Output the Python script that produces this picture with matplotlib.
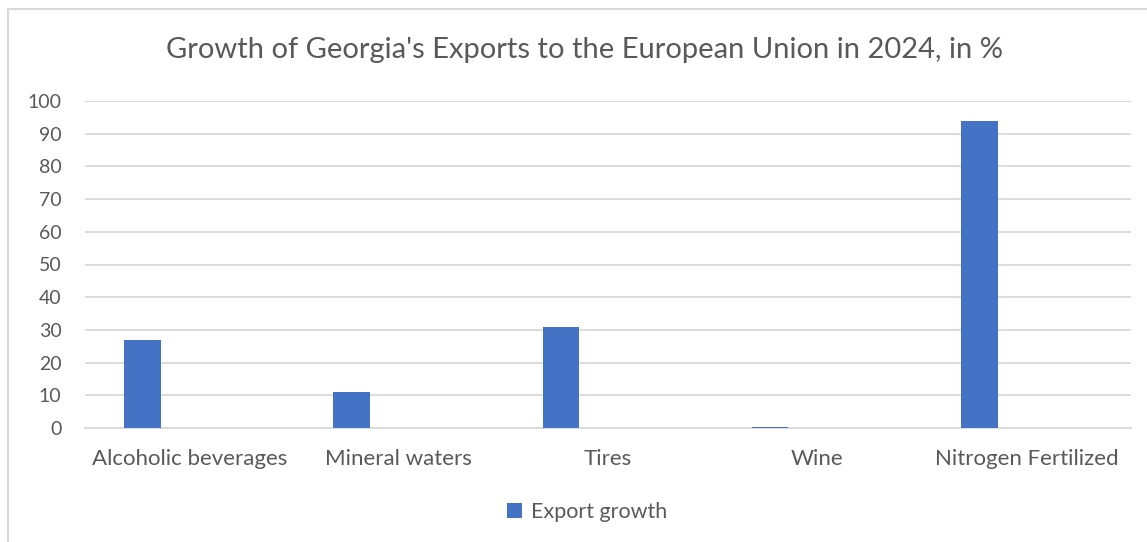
import matplotlib.pyplot as plt
from matplotlib.patches import Rectangle
import numpy as np

plt.rcParams['font.family'] = ['Lato', 'DejaVu Sans']

categories = ["Alcoholic beverages", "Mineral waters", "Tires", "Wine", "Nitrogen Fertilized"]
export_growth = [27, 11, 31, 0.3, 94]
series_name = "Export growth"
title = "Growth of Georgia's Exports to the European Union in 2024, in %"

W, H = 1147, 542
fig = plt.figure(figsize=(W / 100, H / 100), dpi=100)

# chart frame (cropped at right and bottom in the source)
fig.patches.append(Rectangle((8 / W, -0.1), 1.2, 1 - 9 / H + 0.1, transform=fig.transFigure,
                             fill=False, edgecolor="#d9d9d9", linewidth=1.5))
# cut-off caption letter above the frame
fig.text(47 / W, 1 + 10 / H, "g", fontsize=18, color="black", va="baseline", ha="left")

ax = fig.add_axes([85 / W, 1 - 428 / H, (1131 - 85) / W, (428 - 101) / H])

x = np.arange(len(categories))
bars = ax.bar(x - 0.225, export_growth, width=0.175, color="#4472c4", label=series_name, zorder=3)

ax.set_xlim(-0.5, len(categories) - 0.5)
ax.set_ylim(0, 100)
ax.set_yticks(np.arange(0, 101, 10))
ax.set_xticks(x)
ax.set_xticklabels(categories)
ax.grid(axis="y", color="#d9d9d9", linewidth=1.3, zorder=0)
for s in ["top", "right", "left"]:
    ax.spines[s].set_visible(False)
ax.spines["bottom"].set_color("#d9d9d9")
ax.spines["bottom"].set_linewidth(1.3)
ax.tick_params(axis="both", length=0, colors="#595959")
ax.tick_params(axis="x", pad=15, labelsize=16)
ax.tick_params(axis="y", pad=17, labelsize=14)

fig.text(584 / W, 1 - 50 / H, title, fontsize=21, color="#595959", ha="center", va="center")

fig.legend(handles=[bars], labels=[series_name], loc="center", bbox_to_anchor=(587 / W, 1 - 512 / H),
           frameon=False, fontsize=15.5, labelcolor="#595959", handlelength=0.7, handleheight=0.7,
           handletextpad=0.4)

fig.savefig("out.png", dpi=100)
